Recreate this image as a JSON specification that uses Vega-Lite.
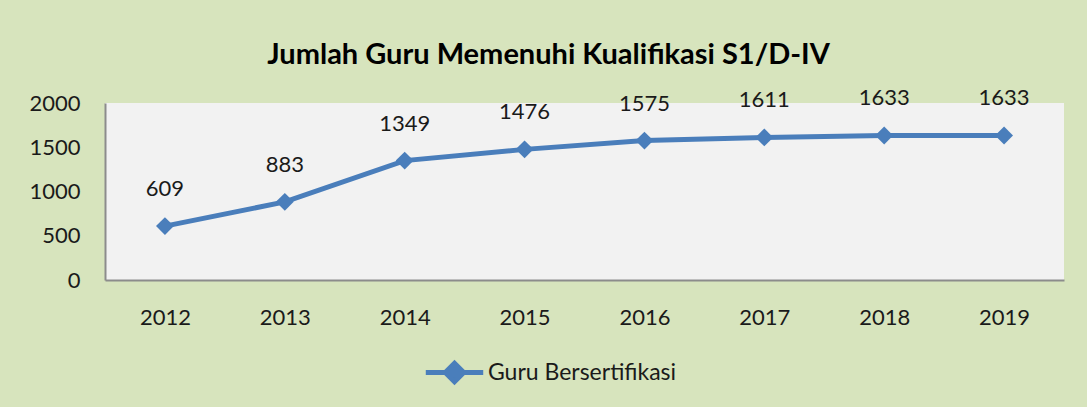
{
  "$schema": "https://vega.github.io/schema/vega-lite/v6.json",
  "width": 959,
  "height": 177,
  "autosize": {"type": "none"},
  "padding": {"left": 105, "right": 23, "top": 103, "bottom": 127},
  "background": "#D7E4BD",
  "config": {
    "font": "Lato",
    "view": {"fill": "#F2F2F2", "stroke": null}
  },
  "title": {
    "text": "Jumlah Guru Memenuhi Kualifikasi S1/D-IV",
    "font": "Lato",
    "fontSize": 29,
    "fontWeight": "bold",
    "color": "#000000",
    "anchor": "middle",
    "dx": -36,
    "offset": 17
  },
  "data": {
    "values": [
      {"year": "2012", "value": 609, "series": "Guru Bersertifikasi"},
      {"year": "2013", "value": 883, "series": "Guru Bersertifikasi"},
      {"year": "2014", "value": 1349, "series": "Guru Bersertifikasi"},
      {"year": "2015", "value": 1476, "series": "Guru Bersertifikasi"},
      {"year": "2016", "value": 1575, "series": "Guru Bersertifikasi"},
      {"year": "2017", "value": 1611, "series": "Guru Bersertifikasi"},
      {"year": "2018", "value": 1633, "series": "Guru Bersertifikasi"},
      {"year": "2019", "value": 1633, "series": "Guru Bersertifikasi"}
    ]
  },
  "encoding": {
    "x": {
      "field": "year",
      "type": "ordinal",
      "scale": {"type": "point", "padding": 0.5},
      "axis": {
        "title": null,
        "labelAngle": 0,
        "labelFontSize": 22,
        "labelColor": "#1a1a1a",
        "labelPadding": 27,
        "ticks": false,
        "domainColor": "#8c8c8c",
        "domainWidth": 2,
        "grid": false
      }
    },
    "y": {
      "field": "value",
      "type": "quantitative",
      "scale": {"domain": [0, 2000]},
      "axis": {
        "title": null,
        "values": [0, 500, 1000, 1500, 2000],
        "format": "d",
        "labelFontSize": 22,
        "labelColor": "#1a1a1a",
        "labelPadding": 25,
        "ticks": false,
        "domainColor": "#8c8c8c",
        "domainWidth": 2,
        "grid": false
      }
    }
  },
  "layer": [
    {
      "mark": {"type": "line", "strokeWidth": 5, "color": "#4A7EBB"},
      "encoding": {
        "color": {
          "field": "series",
          "type": "nominal",
          "scale": {"domain": ["Guru Bersertifikasi"], "range": ["#4A7EBB"]},
          "legend": {
            "title": null,
            "orient": "none",
            "legendX": 318,
            "legendY": 238,
            "labelFontSize": 23,
            "labelColor": "#1a1a1a",
            "labelLimit": 400,
            "symbolType": "M-1,0L1,0M-0.32,0L0,-0.32L0.32,0L0,0.32Z",
            "symbolSize": 3300,
            "symbolStrokeWidth": 5,
            "symbolFillColor": "#4A7EBB",
            "symbolStrokeColor": "#4A7EBB",
            "labelOffset": 2
          }
        }
      }
    },
    {
      "mark": {"type": "point", "shape": "diamond", "filled": true, "size": 320, "color": "#4A7EBB", "opacity": 1}
    },
    {
      "mark": {"type": "text", "fontSize": 22, "color": "#1a1a1a", "dy": -37, "baseline": "middle"},
      "encoding": {"text": {"field": "value", "type": "quantitative"}}
    }
  ]
}
